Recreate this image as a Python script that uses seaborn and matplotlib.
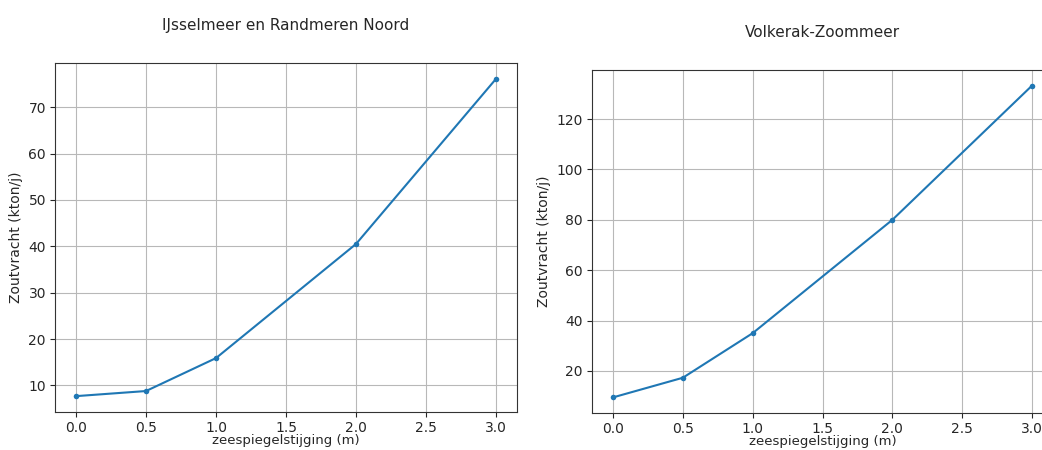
import numpy as np
import pandas as pd
import matplotlib
matplotlib.use("Agg")
import matplotlib.pyplot as plt
import seaborn as sns

# zeespiegelstijging (m) en zoutvracht (kton/j)
slr = [0.0, 0.5, 1.0, 2.0, 3.0]
ijsselmeer = [7.7, 8.8, 15.9, 40.5, 76.1]
volkerak = [9.5, 17.3, 35.0, 80.0, 133.3]

titles = ["IJsselmeer en Randmeren Noord", "Volkerak-Zoommeer"]

sns.set_style("ticks")
plt.rcParams["font.family"] = ["DejaVu Sans"]

fig = plt.figure(figsize=(10.42, 4.5), dpi=100)
W, H = 1042, 450
ax1 = fig.add_axes([55 / W, 1 - 412 / H, 462 / W, (412 - 63) / H])
ax2 = fig.add_axes([592 / W, 1 - 413 / H, 461 / W, (413 - 70) / H])

for ax, vals, title in zip([ax1, ax2], [ijsselmeer, volkerak], titles):
    df = pd.DataFrame({"zeespiegelstijging (m)": slr, "Zoutvracht (kton/j)": vals})
    sns.lineplot(data=df, x="zeespiegelstijging (m)", y="Zoutvracht (kton/j)",
                 ax=ax, marker="o", markersize=4, color="#1f77b4",
                 markeredgewidth=0, linewidth=1.5)
    ax.set_title(title, fontsize=11, pad=24)
    ax.grid(True, color="#b8b8b8", linewidth=0.8)
    ax.set_xticks([0.0, 0.5, 1.0, 1.5, 2.0, 2.5, 3.0])
    ax.tick_params(labelsize=10, pad=3)
    ax.set_xlabel("zeespiegelstijging (m)", fontsize=9.5, labelpad=-1)
    ax.set_ylabel("Zoutvracht (kton/j)", fontsize=10)
    for s in ax.spines.values():
        s.set_color("#333333")

fig.savefig("out.png", dpi=100)
